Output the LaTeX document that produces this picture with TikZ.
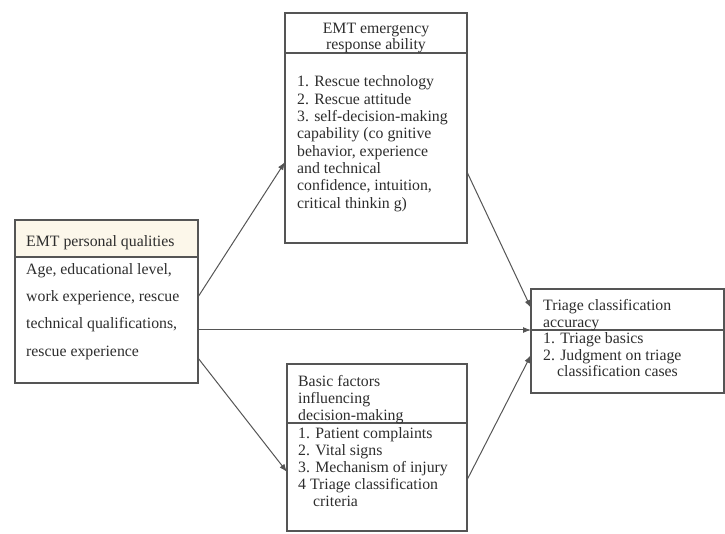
\documentclass[tikz,border=0pt]{standalone}
\usepackage{fontspec}
\setmainfont{Liberation Serif}
\usetikzlibrary{arrows.meta}
\definecolor{edge}{RGB}{85,85,85}
\definecolor{cream}{RGB}{252,247,234}
\definecolor{ink}{RGB}{45,45,45}
\begin{document}
\begin{tikzpicture}[x=1pt,y=-1pt,
  box/.style={draw=edge,line width=1.1pt,anchor=north west,inner sep=0pt,outer sep=0pt},
  divider/.style={draw=edge,line width=1.1pt},
  txt/.style={anchor=base west,inner sep=0pt,text=ink,font=\fontsize{15.8}{17}\selectfont},
  ctxt/.style={anchor=base,inner sep=0pt,text=ink,font=\fontsize{15.8}{17}\selectfont},
  conn/.style={draw=edge,line width=1pt,-{Latex[length=8pt,width=6pt]}}]
\useasboundingbox (0,0) rectangle (725,534);

% ---------- EMT personal qualities ----------
\node[box,fill=cream,minimum width=183pt,minimum height=37pt] (pqh) at (15,220) {};
\node[box,minimum width=183pt,minimum height=163pt] (pq) at (15,220) {};
\node[txt] (pqt) at (26,247) {EMT personal qualities};
\node[txt] (pq1) at (26,275) {Age, educational level,};
\node[txt] (pq2) at (26,302) {work experience, rescue};
\node[txt] (pq3) at (26,329) {technical qualifications,};
\node[txt] (pq4) at (26,356) {rescue experience};

% ---------- EMT emergency response ability ----------
\node[box,minimum width=182pt,minimum height=230pt] (era) at (285,13) {};
\draw[divider] (era.west |- 0,53) -- (era.east |- 0,53);
\node[ctxt] (erat1) at (376,34) {EMT emergency};
\node[ctxt] (erat2) at (376,50) {response ability};
\node[txt] (era1) at (297,87) {1. Rescue technology};
\node[txt] (era2) at (297,104.3) {2. Rescue attitude};
\node[txt] (era3) at (297,121.6) {3. self-decision-making};
\node[txt] (era4) at (297,138.9) {capability (co gnitive};
\node[txt] (era5) at (297,156.2) {behavior, experience};
\node[txt] (era6) at (297,173.5) {and technical};
\node[txt] (era7) at (297,190.8) {confidence, intuition,};
\node[txt] (era8) at (297,208.1) {critical thinkin g)};

% ---------- Basic factors influencing decision-making ----------
\node[box,minimum width=180pt,minimum height=167pt] (bf) at (287,364) {};
\draw[divider] (bf.west |- 0,423) -- (bf.east |- 0,423);
\node[txt] (bft1) at (298,386) {Basic factors};
\node[txt] (bft2) at (298,403) {influencing};
\node[txt] (bft3) at (298,420) {decision-making};
\node[txt] (bf1) at (298,438) {1. Patient complaints};
\node[txt] (bf2) at (298,455) {2. Vital signs};
\node[txt] (bf3) at (298,472) {3. Mechanism of injury};
\node[txt] (bf4) at (298,489) {4 Triage classification};
\node[txt] (bf5) at (313,506) {criteria};

% ---------- Triage classification accuracy ----------
\node[box,minimum width=193pt,minimum height=104pt] (tca) at (531,289) {};
\draw[divider] (tca.west |- 0,330) -- (tca.east |- 0,330);
\node[txt] (tcat1) at (543,311) {Triage classification};
\node[txt] (tcat2) at (543,327) {accuracy};
\node[txt] (tca1) at (543,344) {1. Triage basics};
\node[txt] (tca2) at (543,360) {2. Judgment on triage};
\node[txt] (tca3) at (557,376) {classification cases};

% ---------- connectors ----------
\draw[conn] (pq.east |- 0,297) -- (era.west |- 0,162);
\draw[conn] (pq.east |- 0,330) -- (tca.west |- 0,330);
\draw[conn] (pq.east |- 0,358) -- (bf.west |- 0,472);
\draw[conn] (era.east |- 0,172) -- (tca.west |- 0,308);
\draw[conn] (bf.east |- 0,480) -- (tca.west |- 0,355);
\end{tikzpicture}
\end{document}
